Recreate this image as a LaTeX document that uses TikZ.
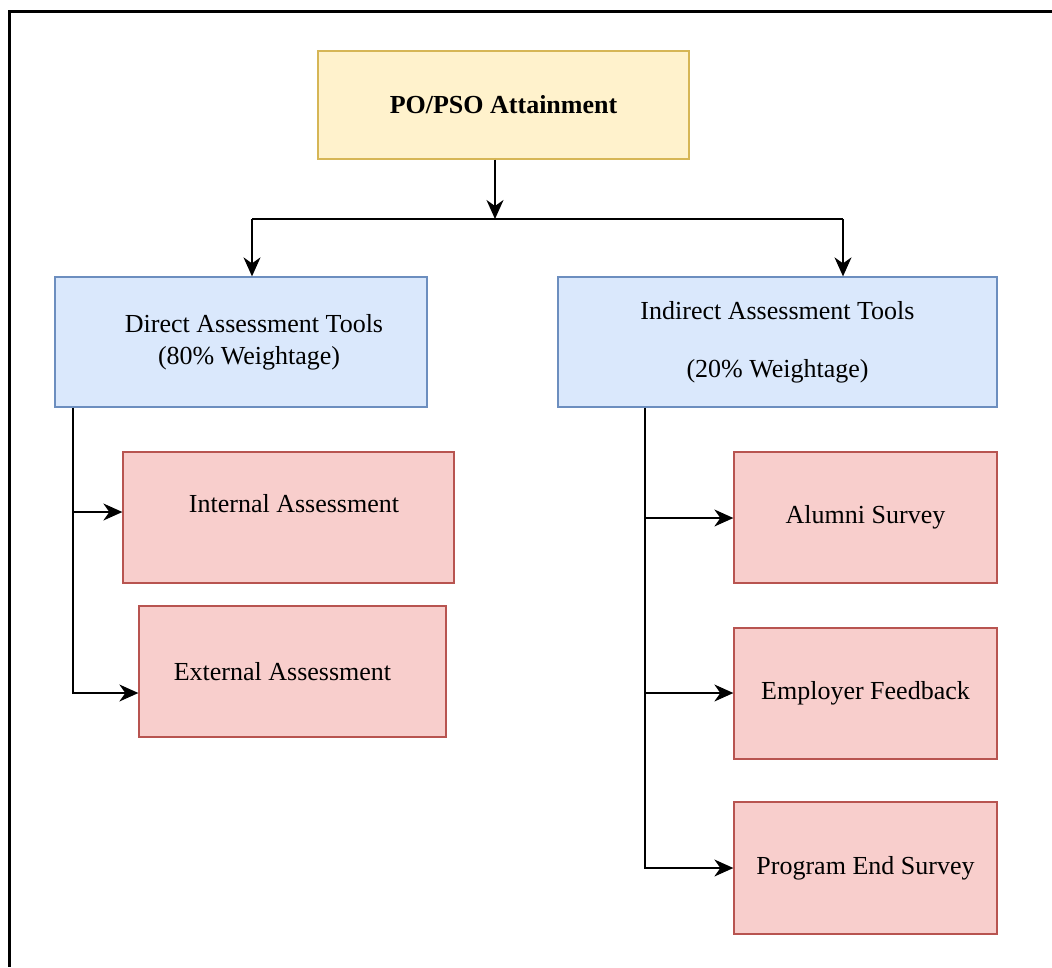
\documentclass[tikz,border=0pt]{standalone}
\usepackage{fontspec}
\setmainfont{Liberation Serif}
\usetikzlibrary{arrows.meta}
\definecolor{ylwfill}{HTML}{FFF2CC}
\definecolor{ylwdraw}{HTML}{D6B656}
\definecolor{blufill}{HTML}{DAE8FC}
\definecolor{bludraw}{HTML}{6C8EBF}
\definecolor{redfill}{HTML}{F8CECC}
\definecolor{reddraw}{HTML}{B85450}
\begin{document}
\begin{tikzpicture}[x=1pt, y=-1pt, every node/.style={font=\fontsize{26}{32}\selectfont},
  topbox/.style={draw=ylwdraw,fill=ylwfill,line width=1.3pt,minimum width=371pt,minimum height=108pt,inner sep=0pt,font=\fontsize{26}{32}\selectfont\bfseries},
  toolbox/.style={draw=bludraw,fill=blufill,line width=1.3pt,minimum height=130pt,inner sep=0pt,align=center},
  itembox/.style={draw=reddraw,fill=redfill,line width=1.3pt,minimum width=263pt,minimum height=131pt,inner sep=0pt,align=center},
  conn/.style={line width=1.5pt,-{Stealth[length=19pt,width=17pt,inset=6pt]}}]
  \useasboundingbox (0,0) rectangle (1052,967);
  \draw[line width=3pt] (1052,11) -- (9,11) -- (9,967);
  \node[topbox] (po) at (503.5,105) {PO/PSO Attainment};
  \node[toolbox,minimum width=372pt] (direct) at (241,342) {\hspace*{26pt}Direct Assessment Tools\\\hspace*{16pt}(80\% Weightage)};
  \node[toolbox,minimum width=439pt] (indirect) at (777.5,342) {Indirect Assessment Tools\\[26pt](20\% Weightage)};
  \node[itembox,minimum width=331pt] (internal) at (288.5,517.5) {\hspace*{11pt}\raisebox{28pt}{Internal Assessment}};
  \node[itembox,minimum width=307pt] (external) at (292.5,671.5) {External Assessment\hspace*{20pt}};
  \node[itembox] (alumni) at (865.5,517.5) {Alumni Survey};
  \node[itembox] (employer) at (865.5,693.5) {Employer Feedback};
  \node[itembox,minimum height=132pt] (program) at (865.5,868) {Program End Survey};
  % split under the top box
  \coordinate (hub) at (495,219);
  \coordinate (dj) at (252,219);
  \coordinate (ij) at (843,219);
  \draw[conn] (po.south -| hub) -- (hub);
  \draw[line width=1.5pt] (dj) -- (ij);
  \draw[conn] (dj) -- (dj |- direct.north);
  \draw[conn] (ij) -- (ij |- indirect.north);
  % direct tools
  \coordinate (lb1) at (73,512);
  \coordinate (lb2) at (73,693);
  \draw[conn] (lb1 |- direct.south) |- (lb2 -| external.west);
  \draw[conn] (lb1) -- (lb1 -| internal.west);
  % indirect tools
  \coordinate (rb1) at (645,518);
  \coordinate (rb2) at (645,693);
  \coordinate (rb3) at (645,868);
  \draw[conn] (rb1 |- indirect.south) |- (rb3 -| program.west);
  \draw[conn] (rb1) -- (rb1 -| alumni.west);
  \draw[conn] (rb2) -- (rb2 -| employer.west);
\end{tikzpicture}
\end{document}
